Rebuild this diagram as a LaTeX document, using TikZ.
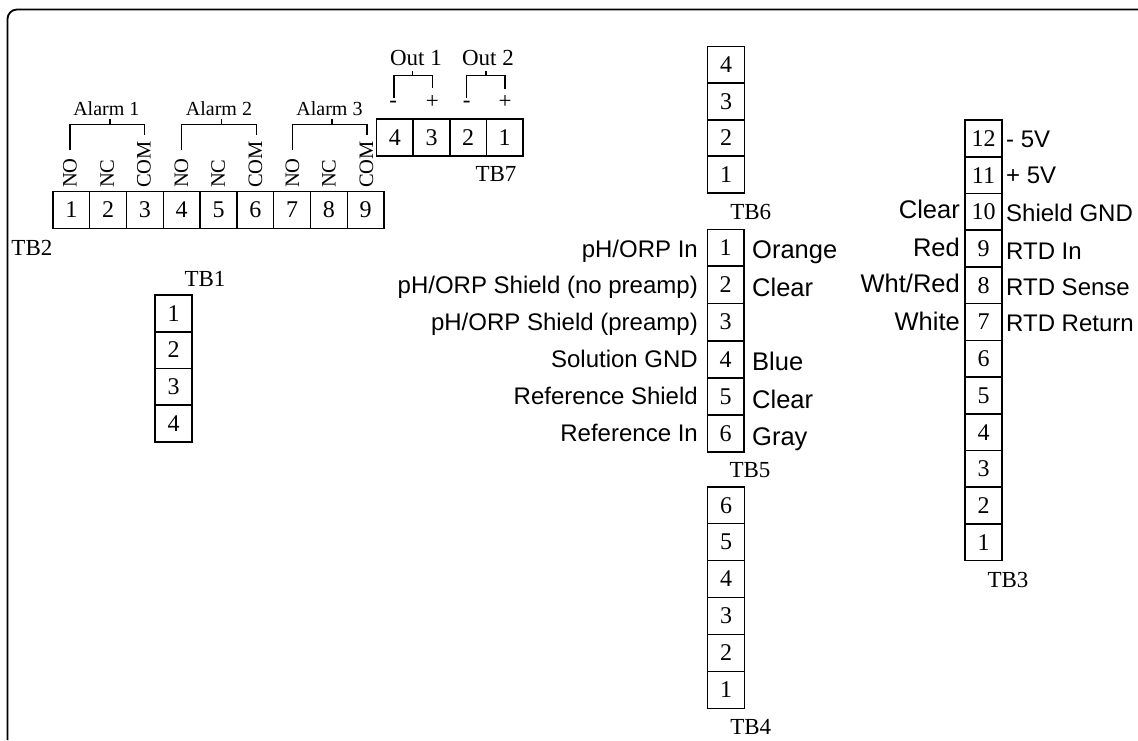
\documentclass[tikz,border=0pt]{standalone}
\usepackage{fontspec}
\setmainfont{Liberation Serif}
\newfontfamily\labelsans{Liberation Sans}
\tikzset{
  tbcell/.style={draw=black,line width=1.4pt,minimum width=36.8pt,minimum height=36.8pt,inner sep=0pt,outer sep=0pt,font=\fontsize{24}{28}\selectfont},
  tbname/.style={inner sep=0pt,font=\fontsize{23}{27}\selectfont},
  pinname/.style={inner sep=0pt,rotate=90,anchor=west,font=\fontsize{20.5}{24}\selectfont},
  groupname/.style={inner sep=0pt,font=\fontsize{20}{24}\selectfont},
  outname/.style={inner sep=0pt,font=\fontsize{23}{27}\selectfont},
  wirename/.style={inner sep=0pt,font=\labelsans\fontsize{24}{28}\selectfont},
  colorname/.style={inner sep=0pt,font=\labelsans\fontsize{25.5}{30}\selectfont},
  bracket/.style={black,line width=1.3pt},
  frameline/.style={black,line width=1.8pt}
}
\begin{document}
\begin{tikzpicture}[x=1pt,y=1pt]
\useasboundingbox (0,0) rectangle (1138,-740);
\draw [frameline] (7.5,-740) -- (7.5,-19) arc (180:90:9.5) -- (1138,-9.5);
\node [tbcell] (tb2a) at (71.3,-210) {1};
\node [tbcell] (tb2b) at (108.1,-210) {2};
\node [tbcell] (tb2c) at (144.9,-210) {3};
\node [tbcell] (tb2d) at (181.7,-210) {4};
\node [tbcell] (tb2e) at (218.5,-210) {5};
\node [tbcell] (tb2f) at (255.3,-210) {6};
\node [tbcell] (tb2g) at (292.1,-210) {7};
\node [tbcell] (tb2h) at (328.9,-210) {8};
\node [tbcell] (tb2i) at (365.7,-210) {9};
\node [tbname] (tb2) at (31.9,-248) {TB2};
\node [pinname] (no1) at (70,-188) {NO};
\node [pinname] (nc1) at (107.3,-188) {NC};
\node [pinname] (com1) at (144,-188) {COM};
\node [pinname] (no2) at (181.5,-188) {NO};
\node [pinname] (nc2) at (218.3,-188) {NC};
\node [pinname] (com2) at (255.5,-188) {COM};
\node [pinname] (no3) at (292.4,-188) {NO};
\node [pinname] (nc3) at (329,-188) {NC};
\node [pinname] (com3) at (366.5,-188) {COM};
\node [groupname] (alarm1) at (106.3,-109) {Alarm 1};
\node [groupname] (alarm2) at (219,-109) {Alarm 2};
\node [groupname] (alarm3) at (329.5,-109) {Alarm 3};
\coordinate (a1no) at (70,-150);
\coordinate (a1com) at (144.7,-135);
\coordinate (a1top) at (110,-124.5);
\coordinate (a1tick) at (110,-119);
\coordinate (a2no) at (181.5,-150);
\coordinate (a2com) at (256.5,-135);
\coordinate (a2top) at (221.4,-124.5);
\coordinate (a2tick) at (221.4,-119);
\coordinate (a3no) at (292.4,-150);
\coordinate (a3com) at (367,-135);
\coordinate (a3top) at (332,-124.5);
\coordinate (a3tick) at (332,-119);
\draw [bracket] (a1no) |- (a1top) -| (a1com);
\draw [bracket] (a1top) -- (a1tick);
\draw [bracket] (a2no) |- (a2top) -| (a2com);
\draw [bracket] (a2top) -- (a2tick);
\draw [bracket] (a3no) |- (a3top) -| (a3com);
\draw [bracket] (a3top) -- (a3tick);
\node [tbcell] (tb7d) at (394.9,-137.5) {4};
\node [tbcell] (tb7c) at (431.5,-137.5) {3};
\node [tbcell] (tb7b) at (468.1,-137.5) {2};
\node [tbcell] (tb7a) at (504.7,-137.5) {1};
\node [tbname] (tb7) at (496,-174) {TB7};
\node [outname] (minus1) at (393.3,-104) {-};
\node [outname] (plus1) at (432.3,-101.7) {+};
\node [outname] (minus2) at (466.6,-104) {-};
\node [outname] (plus2) at (505,-101.7) {+};
\node [outname] (out1) at (416,-58) {Out 1};
\node [outname] (out2) at (488,-58) {Out 2};
\coordinate (o1neg) at (394,-98);
\coordinate (o1pos) at (432.3,-88);
\coordinate (o1top) at (412.7,-75.7);
\coordinate (o1tick) at (412.7,-71);
\coordinate (o2neg) at (466.7,-98);
\coordinate (o2pos) at (505,-89);
\coordinate (o2top) at (486,-75.7);
\coordinate (o2tick) at (486,-71);
\draw [bracket] (o1neg) |- (o1top) -| (o1pos);
\draw [bracket] (o1top) -- (o1tick);
\draw [bracket] (o2neg) |- (o2top) -| (o2pos);
\draw [bracket] (o2top) -- (o2tick);
\node [tbcell] (tb1a) at (173.5,-313.4) {1};
\node [tbcell] (tb1b) at (173.5,-350) {2};
\node [tbcell] (tb1c) at (173.5,-386.7) {3};
\node [tbcell] (tb1d) at (173.5,-423.4) {4};
\node [tbname] (tb1) at (205,-279) {TB1};
\node [tbcell] (tb6d) at (726,-64.9) {4};
\node [tbcell] (tb6c) at (726,-101.4) {3};
\node [tbcell] (tb6b) at (726,-137.9) {2};
\node [tbcell] (tb6a) at (726,-174.4) {1};
\node [tbname] (tb6) at (750.7,-212) {TB6};
\node [tbcell] (tb5a) at (725.7,-247.6) {1};
\node [tbcell] (tb5b) at (725.7,-284.8) {2};
\node [tbcell] (tb5c) at (725.7,-322) {3};
\node [tbcell] (tb5d) at (725.7,-359.2) {4};
\node [tbcell] (tb5e) at (725.7,-396.4) {5};
\node [tbcell] (tb5f) at (725.7,-433.6) {6};
\node [tbname] (tb5) at (750,-470) {TB5};
\node [wirename,anchor=base east] (phin) at (698,-257.7) {pH/ORP In};
\node [wirename,anchor=base east] (phnopre) at (698,-293) {pH/ORP Shield (no preamp)};
\node [wirename,anchor=base east] (phpre) at (698,-330) {pH/ORP Shield (preamp)};
\node [wirename,anchor=base east] (solgnd) at (698,-367.7) {Solution GND};
\node [wirename,anchor=base east] (refsh) at (698,-404) {Reference Shield};
\node [wirename,anchor=base east] (refin) at (698,-441) {Reference In};
\node [colorname,anchor=base west] (orange) at (752,-258) {Orange};
\node [colorname,anchor=base west] (clearb) at (752,-296) {Clear};
\node [colorname,anchor=base west] (blue) at (752,-370) {Blue};
\node [colorname,anchor=base west] (cleare) at (752,-408) {Clear};
\node [colorname,anchor=base west] (gray) at (752,-445) {Gray};
\node [tbcell] (tb4f) at (726,-505.2) {6};
\node [tbcell] (tb4e) at (726,-542.1) {5};
\node [tbcell] (tb4d) at (726,-579) {4};
\node [tbcell] (tb4c) at (726,-616) {3};
\node [tbcell] (tb4b) at (726,-652.9) {2};
\node [tbcell] (tb4a) at (726,-689.8) {1};
\node [tbname] (tb4) at (750.7,-727) {TB4};
\node [tbcell] (tb3l) at (983.5,-138.4) {12};
\node [tbcell] (tb3k) at (983.5,-175.1) {11};
\node [tbcell] (tb3j) at (983.5,-211.8) {10};
\node [tbcell] (tb3i) at (983.5,-248.5) {9};
\node [tbcell] (tb3h) at (983.5,-285.2) {8};
\node [tbcell] (tb3g) at (983.5,-321.9) {7};
\node [tbcell] (tb3f) at (983.5,-358.7) {6};
\node [tbcell] (tb3e) at (983.5,-395.4) {5};
\node [tbcell] (tb3d) at (983.5,-432.1) {4};
\node [tbcell] (tb3c) at (983.5,-468.8) {3};
\node [tbcell] (tb3b) at (983.5,-505.5) {2};
\node [tbcell] (tb3a) at (983.5,-542.2) {1};
\node [tbname] (tb3) at (1008,-580) {TB3};
\node [wirename,anchor=base west] (neg5) at (1006,-147.7) {- 5V};
\node [wirename,anchor=base west] (pos5) at (1006,-183) {+ 5V};
\node [wirename,anchor=base west] (shgnd) at (1006,-221.7) {Shield GND};
\node [wirename,anchor=base west] (rtdin) at (1006,-259) {RTD In};
\node [wirename,anchor=base west] (rtdsense) at (1006,-295) {RTD Sense};
\node [wirename,anchor=base west] (rtdret) at (1006,-331.7) {RTD Return};
\node [colorname,anchor=base east] (clearj) at (960,-218) {Clear};
\node [colorname,anchor=base east] (red) at (960,-256) {Red};
\node [colorname,anchor=base east] (whtred) at (960,-292.7) {Wht/Red};
\node [colorname,anchor=base east] (white) at (960,-330) {White};
\end{tikzpicture}
\end{document}
